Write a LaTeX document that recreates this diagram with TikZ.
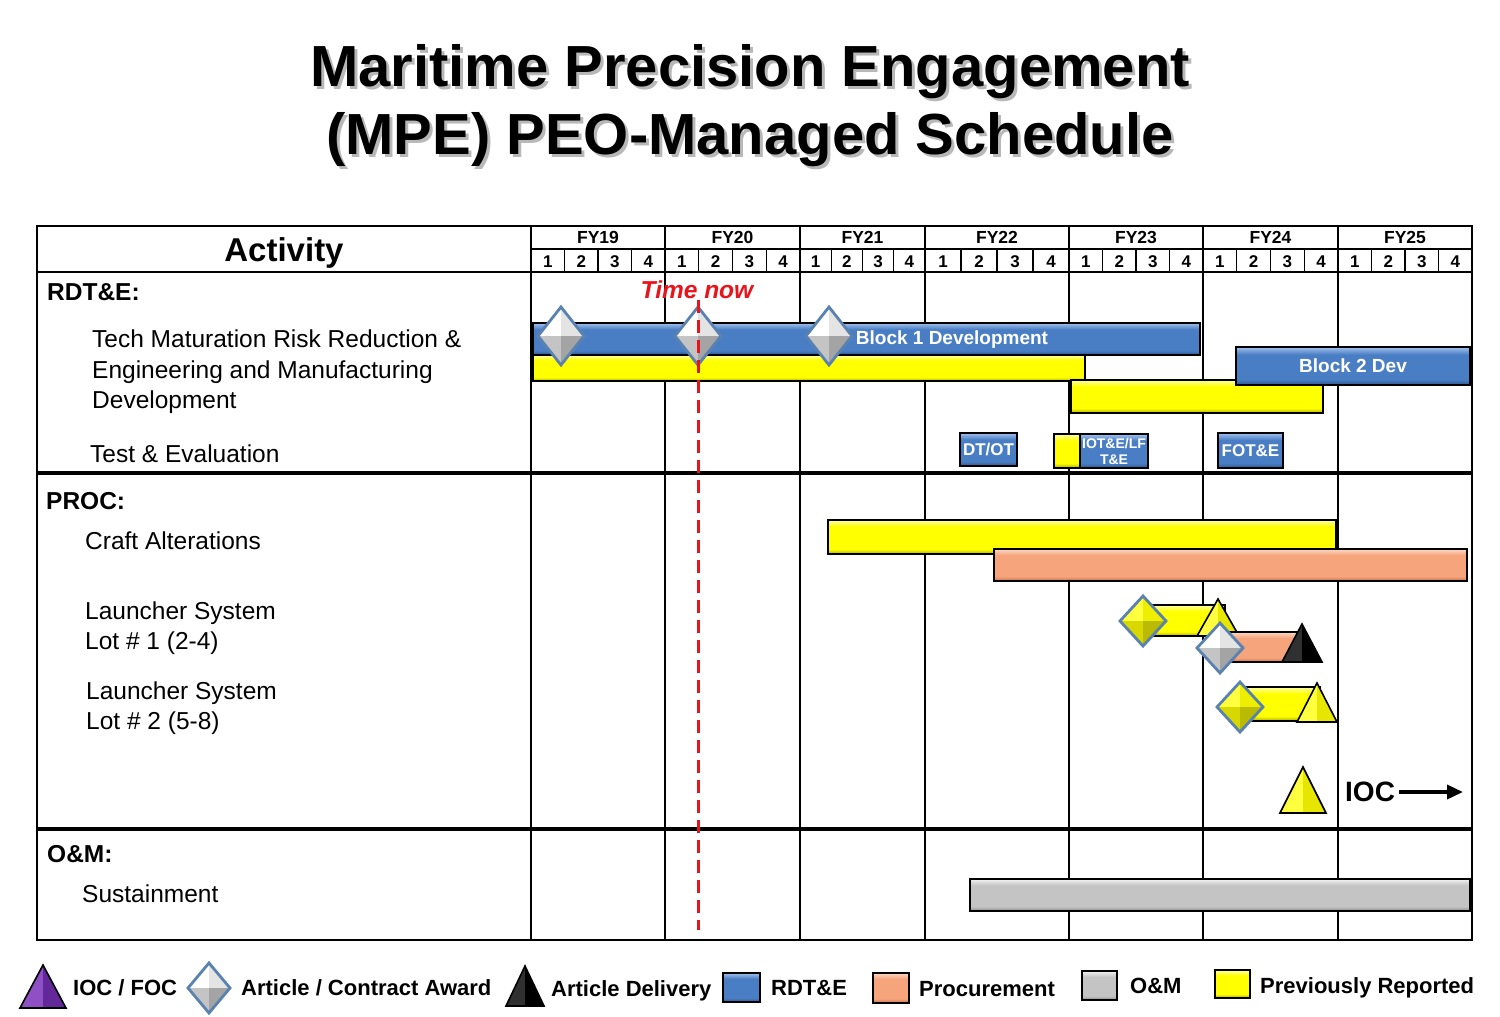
\documentclass[tikz,border=0pt]{standalone}
\usepackage{fontspec}
\setmainfont{Liberation Sans}
\usetikzlibrary{arrows.meta}
\definecolor{bluemid}{HTML}{4A7EC4}
\definecolor{bluetop}{HTML}{A3C2EC}
\definecolor{bluebot}{HTML}{2B568E}
\definecolor{yelmid}{HTML}{FFFF00}
\definecolor{yeltop}{HTML}{FFFFA8}
\definecolor{yelbot}{HTML}{A8A800}
\definecolor{ormid}{HTML}{F5A47C}
\definecolor{ortop}{HTML}{FDD8C4}
\definecolor{orbot}{HTML}{C06F47}
\definecolor{grmid}{HTML}{C4C4C4}
\definecolor{grtop}{HTML}{F2F2F2}
\definecolor{grbot}{HTML}{8A8A8A}
\definecolor{diaedge}{HTML}{5A82B0}
\definecolor{dwTL}{HTML}{FFFFFF}
\definecolor{dwTR}{HTML}{E4E4E4}
\definecolor{dwBL}{HTML}{C4C4C4}
\definecolor{dwBR}{HTML}{A4A4A4}
\definecolor{dyTL}{HTML}{FFFF40}
\definecolor{dyTR}{HTML}{EEEE00}
\definecolor{dyBL}{HTML}{D8D800}
\definecolor{dyBR}{HTML}{BABA00}
\definecolor{tyL}{HTML}{FFFF40}
\definecolor{tyR}{HTML}{E6E600}
\definecolor{tkL}{HTML}{303030}
\definecolor{tkR}{HTML}{000000}
\definecolor{tpL}{HTML}{8E50C4}
\definecolor{tpR}{HTML}{63289A}
\definecolor{timered}{HTML}{E8141B}
\colorlet{bevtop}{white}\colorlet{bevmid}{gray}\colorlet{bevbot}{black}
\pgfdeclareverticalshading[bevtop,bevmid,bevbot]{bevelsh}{100bp}{color(0bp)=(bevbot); color(25bp)=(bevbot); color(32bp)=(bevmid); color(65bp)=(bevmid); color(75bp)=(bevtop); color(100bp)=(bevtop)}
\tikzset{
  bev/.style={/utils/exec={\colorlet{bevtop}{#1top}\colorlet{bevmid}{#1mid}\colorlet{bevbot}{#1bot}}, shade, shading=bevelsh},
  ganttbar/.style={draw=black, line width=1.6pt, inner sep=0pt, outer sep=0pt, anchor=north west, rectangle},
  gridthin/.style={line width=1.4pt, black},
  gridthick/.style={line width=3.5pt, black},
  lbl/.style={anchor=base west, inner sep=0pt, font=\fontsize{24.5}{28}\selectfont},
  seclbl/.style={anchor=base west, inner sep=0pt, font=\fontsize{24.5}{28}\selectfont\bfseries},
  bartxt/.style={text=white, inner sep=0pt, font=\bfseries},
  legtxt/.style={anchor=base west, inner sep=0pt, font=\fontsize{22}{26}\selectfont\bfseries},
  titletxt/.style={anchor=base, inner sep=0pt, font=\fontsize{58}{64}\selectfont\bfseries},
}
\newcommand\gbar[7][]{\node[ganttbar,bev=#7,minimum width={(#5-#3)*1pt},minimum height={(#6-#4)*1pt},#1] (#2) at (#3,#4) {};}
% diamond: name, x, y, half width, half height, colour prefix
\newcommand\mpediamond[6]{%
  \coordinate (#1) at (#2,#3);
  \begin{scope}[shift={(#1)}]
    \fill[#6TL] (0,0) -- (-#4,0) -- (0,-#5) -- cycle;
    \fill[#6TR] (0,0) -- (0,-#5) -- (#4,0) -- cycle;
    \fill[#6BL] (0,0) -- (-#4,0) -- (0,#5) -- cycle;
    \fill[#6BR] (0,0) -- (#4,0) -- (0,#5) -- cycle;
    \draw[diaedge, line width=2.8pt, line join=miter] (-#4,0) -- (0,-#5) -- (#4,0) -- (0,#5) -- cycle;
  \end{scope}}
% triangle: name, apex x, apex y, half base, height, colour prefix
\newcommand\mpetri[6]{%
  \coordinate (#1) at (#2,#3);
  \begin{scope}[shift={(#1)}]
    \fill[#6L] (0,0) -- (-#4,#5) -- (0,#5) -- cycle;
    \fill[#6R] (0,0) -- (0,#5) -- (#4,#5) -- cycle;
    \draw[black, line width=1.6pt, line join=miter] (0,0) -- (-#4,#5) -- (#4,#5) -- cycle;
  \end{scope}}
\begin{document}
\begin{tikzpicture}[x=1pt,y=-1pt]
\useasboundingbox[fill=white] (0,0) rectangle (1500,1017);

% ---------- title ----------
\node[titletxt, text=black!28] (t1s) at (753,89) {Maritime Precision Engagement};
\node[titletxt] (t1) at (750,86) {Maritime Precision Engagement};
\node[titletxt, text=black!28] (t2s) at (753,157) {(MPE) PEO-Managed Schedule};
\node[titletxt] (t2) at (750,154) {(MPE) PEO-Managed Schedule};

% ---------- grid ----------
\draw[gridthin] (531,249) -- (1472,249);
\foreach \xx in {665,800,925,1069,1203,1338}
  \draw[gridthin] (\xx,226) -- (\xx,940);
\draw[gridthin] (531,226) -- (531,940);
\foreach \a/\b/\lab in {531/665/FY19,665/800/FY20,800/925/FY21,925/1069/FY22,1069/1203/FY23,1203/1338/FY24,1338/1472/FY25}{
  \pgfmathsetmacro\w{(\b-\a)/4}
  \node[anchor=base, inner sep=0pt, font=\fontsize{17.5}{20}\selectfont\bfseries] (h\lab) at ({(\a+\b)/2},243) {\lab};
  \foreach \i in {1,2,3}
    \draw[gridthin] ({\a+\i*\w},249) -- ({\a+\i*\w},272);
  \foreach \i in {1,2,3,4}
    \node[anchor=base, inner sep=0pt, font=\fontsize{17}{20}\selectfont\bfseries] (q\lab\i) at ({\a+(\i-0.5)*\w},267) {\i};
}
\draw[line width=2pt] (37,272) -- (1472,272);
\draw[gridthick] (37,473) -- (1472,473);
\draw[gridthick] (37,829) -- (1472,829);
\draw[line width=2pt] (37,226) rectangle (1472,940);

% ---------- activity column ----------
\node[anchor=base, inner sep=0pt, font=\fontsize{33}{38}\selectfont\bfseries] (act) at (284,261) {Activity};
\node[seclbl] (rdte) at (47,300) {RDT\&E:};
\node[lbl] (tm1) at (92,347) {Tech Maturation Risk Reduction \&};
\node[lbl] (tm2) at (92,378) {Engineering and Manufacturing};
\node[lbl] (tm3) at (92,408) {Development};
\node[lbl] (te) at (90,462) {Test \& Evaluation};
\node[seclbl] (proc) at (46,509) {PROC:};
\node[lbl] (craft) at (85,549) {Craft Alterations};
\node[lbl] (ls1a) at (85,619) {Launcher System};
\node[lbl] (ls1b) at (85,649) {Lot \# 1 (2-4)};
\node[lbl] (ls2a) at (86,699) {Launcher System};
\node[lbl] (ls2b) at (86,729) {Lot \# 2 (5-8)};
\node[seclbl] (om) at (47,862) {O\&M:};
\node[lbl] (sust) at (82,902) {Sustainment};

% ---------- RDT&E bars ----------
\gbar{y1}{533}{355}{1085}{381}{yel}
\gbar{b1dev}{533}{323}{1200}{355}{blue}
\node[bartxt, font=\fontsize{19}{22}\selectfont\bfseries] (b1txt) at (952,340) {Block 1 Development};
\gbar{y2}{1071}{380}{1323}{413}{yel}
\gbar{b2dev}{1236}{347}{1470}{385}{blue}
\node[bartxt, font=\fontsize{19}{22}\selectfont\bfseries] (b2txt) at (b2dev.center) {Block 2 Dev};
\mpediamond{d1}{561}{336}{23}{29}{dw}
\mpediamond{d2}{698}{336}{23}{29}{dw}
\mpediamond{d3}{829}{336}{23}{29}{dw}

\gbar{dtot}{960}{433}{1017}{466}{blue}
\node[bartxt, font=\fontsize{17}{20}\selectfont\bfseries] (dtottxt) at (dtot.center) {DT/OT};
\gbar{ioty}{1054}{434}{1082}{468}{yel}
\gbar{iot}{1080}{434}{1148}{468}{blue}
\node[bartxt, align=center, font=\fontsize{14}{16}\selectfont\bfseries] (iottxt) at (iot.center) {IOT\&E/LF\\T\&E};
\gbar{fote}{1218}{433}{1283}{468}{blue}
\node[bartxt, font=\fontsize{17}{20}\selectfont\bfseries] (fotetxt) at (fote.center) {FOT\&E};

% ---------- PROC bars ----------
\gbar{craftY}{828}{520}{1336}{554}{yel}
\gbar{craftO}{994}{549}{1467}{581}{or}

\gbar{l1y}{1143}{605}{1225}{636}{yel}
\mpetri{l1tri}{1218}{599}{21}{37}{ty}
\mpediamond{l1dia}{1143}{621}{23}{25}{dy}
\gbar{l1o}{1220}{632}{1300}{662}{or}
\mpetri{l1del}{1302}{624}{20}{38}{tk}
\mpediamond{l1aw}{1220}{648}{23}{25}{dw}

\gbar{l2y}{1240}{687}{1320}{721}{yel}
\mpetri{l2tri}{1317}{683}{20}{39}{ty}
\mpediamond{l2dia}{1240}{707}{23}{25}{dy}

\mpetri{ioctri}{1303}{767}{23}{46}{ty}
\node[anchor=west, inner sep=0pt, font=\fontsize{28}{32}\selectfont\bfseries] (ioc) at (1345,792) {IOC};
\coordinate (iocend) at (1463,792);
\draw[line width=3.5pt, -{Triangle[length=16pt,width=14pt]}] ([xshift=4pt]ioc.east) -- (iocend);

% ---------- O&M ----------
\gbar{sustbar}{970}{879}{1470}{911}{gr}

% ---------- time now ----------
\node[anchor=base, inner sep=0pt, text=timered, font=\fontsize{24.5}{28}\selectfont\bfseries\itshape] (tnow) at (697,298) {Time now};
\coordinate (tn1) at (698,300);
\coordinate (tn2) at (698,930);
\draw[timered, line width=3pt, dash pattern=on 13pt off 7pt] (tn1) -- (tn2);

% ---------- legend ----------
\mpetri{legioc}{43}{965}{23}{43}{tp}
\node[legtxt] (l1) at (73,995) {IOC / FOC};
\mpediamond{legaw}{209}{988}{21}{25}{dw}
\node[legtxt] (l2) at (241,995) {Article / Contract Award};
\mpetri{legdel}{525}{966}{19}{40}{tk}
\node[legtxt] (l3) at (551,996) {Article Delivery};
\gbar[line width=2pt]{legb}{723}{973}{760}{1002}{blue}
\node[legtxt] (l4) at (771,995) {RDT\&E};
\gbar[line width=2pt]{lego}{873}{973}{909}{1003}{or}
\node[legtxt] (l5) at (919,996) {Procurement};
\gbar[line width=2pt]{legg}{1082}{971}{1117}{1000}{gr}
\node[legtxt] (l6) at (1130,993) {O\&M};
\gbar[line width=2pt]{legy}{1215}{970}{1250}{998}{yel}
\node[legtxt] (l7) at (1260,993) {Previously Reported};
\end{tikzpicture}
\end{document}
